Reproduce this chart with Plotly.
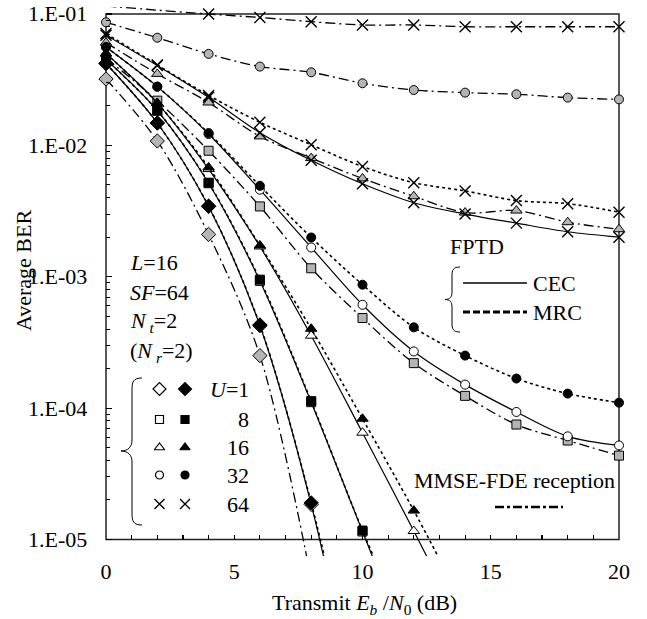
import math
import plotly.graph_objects as go

# ---------------- data ----------------
snr_db = [0, 2, 4, 6, 8, 10, 12, 14, 16, 18, 20]

# FPTD, CEC (open markers, solid line)
cec_u1 = [0.042, 0.0148, 0.00343, 0.000424, 1.85e-5, 3e-7]
cec_u8 = [0.045, 0.0184, 0.00515, 0.00093, 0.000111, 1.15e-5, 1.2e-6]
cec_u16 = [0.05, 0.021, 0.0066, 0.0017, 0.000356, 6.5e-5, 1.16e-5, 2e-6]
cec_u32 = [0.056, 0.028, 0.0122, 0.0046, 0.00167, 0.000612, 0.00027, 0.000151, 9.35e-5, 6.1e-5, 5.2e-5]
cec_u64 = [0.069, 0.0405, 0.0232, 0.0125, 0.0077, 0.0051, 0.00366, 0.003, 0.00256, 0.0022, 0.002]

# FPTD, MRC (filled markers, dotted line)
mrc_u1 = [0.042, 0.0148, 0.00345, 0.00043, 1.9e-5, 4e-7]
mrc_u8 = [0.045, 0.0184, 0.0052, 0.00095, 0.000113, 1.17e-5, 1.5e-6]
mrc_u16 = [0.05, 0.021, 0.0068, 0.00173, 0.000402, 8.3e-5, 1.66e-5, 3e-6]
mrc_u32 = [0.056, 0.028, 0.0124, 0.00492, 0.00199, 0.00087, 0.000412, 0.000251, 0.000168, 0.000129, 0.00011]
mrc_u64 = [0.071, 0.041, 0.024, 0.015, 0.0101, 0.0069, 0.0052, 0.0045, 0.0038, 0.0036, 0.0031]

# MMSE-FDE reception (grey markers, dash-dot line)
mmse_u1 = [0.032, 0.0108, 0.0021, 0.000251, 5e-6]
mmse_u8 = [0.046, 0.0219, 0.0091, 0.00343, 0.00116, 0.000485, 0.00022, 0.000124, 7.5e-5, 5.67e-5, 4.35e-5]
mmse_u16 = [0.0605, 0.035, 0.0212, 0.0117, 0.008, 0.0056, 0.0041, 0.00308, 0.00319, 0.0026, 0.0023]
mmse_u32 = [0.0865, 0.066, 0.0497, 0.0398, 0.036, 0.0297, 0.0264, 0.0252, 0.0245, 0.0231, 0.0224]
mmse_u64 = [0.115, 0.107, 0.1, 0.094, 0.0874, 0.0825, 0.0825, 0.08, 0.08, 0.08, 0.08]

users = ["1", "8", "16", "32", "64"]
y_tick_vals = [1e-5, 1e-4, 1e-3, 1e-2, 1e-1]
y_tick_text = ["1.E-05", "1.E-04", "1.E-03", "1.E-02", "1.E-01"]
x_tick_vals = [0, 5, 10, 15, 20]

# ---------------- geometry ----------------
W, H = 647, 619
L, R, T, B = 106, 619, 7, 556           # plot area in pixels
Y_TOP_PIX, Y_BOT_PIX = 14, 539.5         # pixels of 1e-1 and 1e-5
dec = (Y_BOT_PIX - Y_TOP_PIX) / 4.0
ymax = -1 + (Y_TOP_PIX - T) / dec
ymin = -5 - (B - Y_BOT_PIX) / dec


def pv(v):  # paper y of a data value
    return (math.log10(v) - ymin) / (ymax - ymin)


def ppx(x):  # paper x of a pixel column
    return (x - L) / (R - L)


def ppy(y):  # paper y of a pixel row
    return (B - y) / (B - T)


FONT = "Liberation Serif"
GREY = "#b4b4b4"
symbols = ["diamond", "square", "triangle-up", "circle", "x-thin"]
sizes = [11, 9, 10, 9, 11]

fig = go.Figure()

groups = [
    ("mmse", [mmse_u1, mmse_u8, mmse_u16, mmse_u32, mmse_u64]),
    ("cec", [cec_u1, cec_u8, cec_u16, cec_u32, cec_u64]),
    ("mrc", [mrc_u1, mrc_u8, mrc_u16, mrc_u32, mrc_u64]),
]
line_styles = {
    "cec": dict(color="black", width=1.2, dash="solid"),
    "mrc": dict(color="black", width=1.6, dash="3px,3px"),
    "mmse": dict(color="black", width=1.3, dash="10px,4px,2px,4px"),
}
fills = {"cec": "white", "mrc": "black", "mmse": GREY}

for kind, arrs in groups:
    for i, vals in enumerate(arrs):
        xs = snr_db[:len(vals)]
        vis = [1 if (0.95e-5 <= v <= 0.104) else 0 for v in vals]
        sym = symbols[i]
        if sym == "x-thin":
            mk = dict(symbol=sym, size=sizes[i], color="black", opacity=vis,
                      line=dict(color="black", width=1.4))
        else:
            mk = dict(symbol=sym, size=sizes[i], color=fills[kind], opacity=vis,
                      line=dict(color="black", width=1))
        fig.add_trace(go.Scatter(
            x=xs, y=vals, mode="lines+markers",
            line=dict(shape="spline", smoothing=0.9, **line_styles[kind]),
            marker=mk, cliponaxis=False, showlegend=False, hoverinfo="skip",
            xaxis="x", yaxis="y"))

# ---------------- legend decorations (pixel overlay axes) ----------------
row_y = [389, 419.5, 447.5, 475, 504]
for i in range(5):
    for xk, fill in ((159.5, "white"), (185, "black")):
        sym = symbols[i]
        if sym == "x-thin":
            mk = dict(symbol=sym, size=10, color="black", line=dict(color="black", width=1.4))
        else:
            mk = dict(symbol=sym, size=sizes[i] - 1, color=fill, line=dict(color="black", width=1.2))
        fig.add_trace(go.Scatter(x=[xk], y=[row_y[i]], mode="markers", marker=mk,
                                 xaxis="x2", yaxis="y2", showlegend=False,
                                 hoverinfo="skip", cliponaxis=False))

# line samples
fig.add_trace(go.Scatter(x=[463, 527], y=[283, 283], mode="lines",
                         line=dict(color="black", width=1.5),
                         xaxis="x2", yaxis="y2", showlegend=False, hoverinfo="skip"))
fig.add_trace(go.Scatter(x=[463, 527], y=[312, 312], mode="lines",
                         line=dict(color="black", width=3, dash="7px,3px"),
                         xaxis="x2", yaxis="y2", showlegend=False, hoverinfo="skip"))
fig.add_trace(go.Scatter(x=[495, 563], y=[507, 507], mode="lines",
                         line=dict(color="black", width=2.5, dash="9px,3px,3px,3px"),
                         xaxis="x2", yaxis="y2", showlegend=False, hoverinfo="skip"))

shapes = [
    dict(type="rect", xref="paper", yref="paper", x0=0, x1=1, y0=pv(1e-5), y1=pv(1e-1),
         line=dict(color="#222222", width=1.5), layer="below"),
    dict(type="path", xref="x2", yref="y2",
         path="M 142,378 C 133,378 132,382 132,390 L 132,440 C 132,447 128,451 121,451 "
              "C 128,451 132,455 132,462 L 132,513 C 132,521 133,525 142,525",
         line=dict(color="black", width=1)),
    dict(type="path", xref="x2", yref="y2",
         path="M 460,267 C 453,267 452,270 452,276 L 452,292 C 452,297 450,299.5 445,299.5 "
              "C 450,299.5 452,302 452,307 L 452,323 C 452,329 453,332 460,332",
         line=dict(color="black", width=1)),
]


def ann(text, x, y, xanchor="left", angle=0, size=22):
    return dict(text=text, x=ppx(x), y=ppy(y), xref="paper", yref="paper", showarrow=False,
                xanchor=xanchor, yanchor="middle", textangle=angle,
                font=dict(family=FONT, size=size, color="black"))


annotations = [
    ann("<i>L</i>=16", 128, 262),
    ann("<i>SF</i>=64", 128, 292),
    ann("<i>N</i><sub> <i>t</i></sub>=2", 128, 322),
    ann("(<i>N</i><sub> <i>r</i></sub>=2)", 128, 352),
    ann("<i>U</i>=" + users[0], 251, row_y[0], "right"),
    ann(users[1], 251, row_y[1], "right"),
    ann(users[2], 251, row_y[2], "right"),
    ann(users[3], 251, row_y[3], "right"),
    ann(users[4], 251, row_y[4], "right"),
    ann("FPTD", 448, 246),
    ann("CEC", 531, 283),
    ann("MRC", 531, 312),
    ann("MMSE-FDE reception", 412, 480),
    ann("Average BER", 23, 271, "center", -90),
    ann("Transmit <i>E</i><sub><i>b</i></sub> /<i>N</i><sub>0</sub> (dB)", 364, 604, "center"),
]
# y tick labels (placed as text next to the log axis)
for v, t in zip(y_tick_vals, y_tick_text):
    annotations.append(dict(text=t, x=ppx(89), y=pv(v), xref="paper", yref="paper",
                            showarrow=False, xanchor="right", yanchor="middle",
                            font=dict(family=FONT, size=22, color="black")))

minor_vals = [m * 10 ** e for e in range(-5, -1) for m in range(2, 10)]

fig.update_layout(
    width=W, height=H,
    margin=dict(l=L, r=W - R, t=T, b=H - B, pad=0),
    paper_bgcolor="white", plot_bgcolor="white",
    font=dict(family=FONT, size=22, color="black"),
    showlegend=False,
    xaxis=dict(range=[0, 20], anchor="free", position=pv(1e-5),
               showline=False, showgrid=False, zeroline=False,
               tickvals=x_tick_vals, ticks="inside", ticklen=5, tickwidth=1.2,
               tickcolor="black", tickfont=dict(family=FONT, size=22),
               ticklabelstandoff=16,
               minor=dict(dtick=1, ticks="inside", ticklen=5, tickwidth=1.2, tickcolor="black")),
    yaxis=dict(type="log", range=[ymin, ymax], anchor="x",
               showline=False, showgrid=False, zeroline=False,
               tickvals=y_tick_vals, showticklabels=False,
               ticks="inside", ticklen=6, tickwidth=1.2, tickcolor="black",
               minor=dict(tickvals=minor_vals, ticks="inside", ticklen=4, tickwidth=1,
                          tickcolor="black")),
    xaxis2=dict(range=[L, R], overlaying="x", visible=False, fixedrange=True),
    yaxis2=dict(range=[B, T], overlaying="y", visible=False, fixedrange=True),
    shapes=shapes,
    annotations=annotations,
)

fig.write_html("out.html", config={"displayModeBar": False, "staticPlot": True},
               post_script="document.body.style.margin='0px';")
